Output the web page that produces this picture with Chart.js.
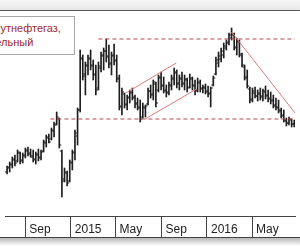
<!DOCTYPE html>
<html>
<head>
<meta charset="utf-8">
<script src="https://cdn.jsdelivr.net/npm/chart.js@4.4.1/dist/chart.umd.min.js"></script>
<style>
  html, body { margin: 0; padding: 0; background: #fff; }
  #wrap { position: relative; width: 300px; height: 250px; overflow: hidden; }
  #chart { display: block; }
  #label {
    position: absolute; left: -30px; top: 16px; width: 105px; height: 39px;
    box-sizing: border-box; border: 1px solid #a8a8a8; background: #fff;
    padding: 4px 0 0 6px; font: 11px 'Liberation Sans', Arial, sans-serif;
    line-height: 14px; color: #a02a2a; white-space: nowrap;
  }
</style>
</head>
<body>
<div id="wrap">
  <canvas id="chart" width="300" height="250"></canvas>
  <div id="label">Сургутнефтегаз,<br>недельный</div>
</div>
<script>
// weekly bars, week 0 starts on firstWeek
var firstWeek = '2014-07-14';

var highs = [30.0,30.8,31.8,32.2,33.2,32.8,32.6,33.6,33.8,33.4, 33.2,32.8,33.4,33.2,35.2,36.2,36.4,37.6,38.8,40.8,
  39.6,33.2,29.6,29.0,31.2,33.2,37.2,41.6,53.2,52.2, 50.8,52.2,53.2,51.2,50.2,50.8,52.8,53.6,55.4,54.2,
  52.8,54.4,52.2,48.2,45.6,44.6,44.2,45.2,45.6,44.2, 43.6,43.2,42.6,42.2,45.6,46.2,47.2,46.8,48.2,48.8,
  47.8,46.2,46.8,48.2,49.6,49.2,48.2,48.8,48.2,47.6, 48.4,47.8,47.2,47.6,47.2,46.2,46.4,46.0,45.8,48.0,
  51.8,52.8,53.6,54.6,55.2,56.6,57.6,56.6,55.6,55.2, 52.6,50.2,49.2,45.8,45.6,45.8,45.2,45.6,45.4,46.0,
  45.2,44.8,44.2,43.6,43.2,41.6,41.2,39.6,39.8,39.4, 39.2];
var lows = [28.4,28.8,29.6,30.0,30.8,30.4,30.6,31.6,32.0,31.8, 30.8,30.4,31.0,31.2,32.8,33.8,34.6,35.2,35.8,38.2,
  33.6,23.8,26.8,26.0,26.8,29.2,31.2,34.2,40.8,47.2, 44.2,48.2,49.2,47.2,44.2,45.2,48.8,49.2,50.8,49.6,
  48.2,50.2,46.8,41.2,40.2,41.6,41.2,42.6,43.2,41.6, 41.2,38.8,39.6,39.8,42.2,43.6,43.2,41.8,44.8,45.2,
  44.6,43.8,44.2,45.2,46.2,45.6,45.2,45.8,45.2,44.8, 45.6,45.2,44.2,44.8,44.8,44.6,44.4,43.8,41.8,46.0,
  48.2,49.8,50.8,51.6,53.2,54.2,55.2,53.2,52.2,51.8, 49.8,47.2,45.6,42.6,42.8,43.6,43.0,43.2,43.0,43.4,
  42.8,42.4,41.6,41.2,40.6,39.6,38.8,38.0,38.2,37.8, 37.8];
var opens = [28.8,29.6,30.2,31.2,31.0,32.6,31.2,32.0,33.0,32.6, 32.0,31.2,32.2,31.6,33.0,34.6,35.6,35.4,37.0,38.4,
  39.4,33.0,27.4,28.6,27.0,30.6,32.6,36.0,41.2,51.4, 48.4,50.0,51.4,50.2,48.4,45.6,49.6,52.0,53.0,51.8,
  50.6,52.2,51.0,47.4,42.0,44.4,42.4,43.6,44.6,43.8, 42.6,41.8,39.8,41.6,42.4,45.0,44.4,46.4,45.2,47.6,
  46.2,45.2,44.8,46.0,47.4,48.6,46.6,47.4,46.6,47.2, 45.8,47.4,46.2,45.2,46.6,45.4,45.6,45.0,44.4,46.2,
  48.4,50.6,51.4,52.2,53.6,54.6,55.6,56.2,53.6,54.8, 52.2,49.8,47.8,45.4,43.4,44.6,44.0,44.4,44.0,44.8,
  44.2,43.6,43.2,42.2,41.6,41.0,40.2,39.0,38.6,39.2, 38.4];
var closes = [29.8,30.4,31.4,30.6,32.8,31.0,32.2,33.2,32.4,31.8, 31.4,32.4,31.8,32.8,34.8,35.8,34.8,37.2,38.2,39.8,
  34.2,27.0,28.8,26.6,30.8,32.8,36.6,41.2,51.6,48.0, 50.2,51.6,50.0,48.2,45.2,50.0,52.2,53.0,52.0,50.4,
  52.0,51.2,47.6,41.8,44.8,42.2,43.8,44.8,43.6,42.4, 41.6,39.4,41.8,42.0,45.0,44.2,46.8,42.6,47.8,46.0,
  45.0,44.6,46.2,47.6,48.8,46.4,47.6,46.4,47.4,45.6, 47.6,46.0,45.0,46.8,45.6,45.8,44.8,44.6,45.6,47.6,
  51.2,52.0,53.0,54.0,54.8,56.2,56.4,53.8,55.0,52.4, 50.2,47.6,46.0,43.2,45.0,44.0,44.6,43.8,45.0,44.0,
  43.4,43.0,42.0,41.8,41.2,40.0,39.2,38.6,39.4,38.4, 38.8];

var tickDates = ['2014-09-01', '2015-01-01', '2015-05-01', '2015-09-01', '2016-01-01', '2016-05-01'];
var tickLabels = ['Sep', '2015', 'May', 'Sep', '2016', 'May'];

// drawn levels and trend lines: [week, price]
var resistance = [[35, 55.4], [110.3, 55.4]];
var support = [[16.6, 39.4], [110.3, 39.4]];
var channelTop = [[45.5, 44.6], [64.8, 50.6]];
var channelBottom = [[52.9, 39.4], [72.6, 45.4]];
var downTrend = [[86.0, 56.8], [110.3, 40.6]];

function weekOf(d) {
    return (Date.parse(d) - Date.parse(firstWeek)) / (7 * 864e5);
}
var tickWeeks = tickDates.map(weekOf);

function pts(arr) {
    return arr.map(function(p) { return { x: p[0], y: p[1] }; });
}

function lineSet(arr, color, dash) {
    return {
        type: 'line', data: pts(arr), borderColor: color, borderWidth: 1,
        borderDash: dash || [], pointRadius: 0, fill: false, order: 0
    };
}

var frame = {
    id: 'frame',
    beforeDraw: function(chart) {
        var c = chart.ctx, a = chart.chartArea, w = chart.width;
        c.save();
        c.fillStyle = '#fff';
        c.fillRect(0, 0, w, chart.height);
        var g = c.createLinearGradient(0, 0, 0, a.top);
        g.addColorStop(0, '#f6f6f6');
        g.addColorStop(1, '#e6e6e6');
        c.fillStyle = g;
        c.fillRect(0, 0, w, a.top - 1);
        c.fillStyle = '#5a5a5a';
        c.fillRect(0, a.top - 1, w, 1);
        c.restore();
    },
    afterDraw: function(chart) {
        var c = chart.ctx, b = chart.scales.x.bottom, w = chart.width;
        c.save();
        c.fillStyle = '#444';
        c.fillRect(0, b, w, 1);
        var g = c.createLinearGradient(0, b + 1, 0, b + 9);
        g.addColorStop(0, '#b8b8b8');
        g.addColorStop(1, '#ffffff');
        c.fillStyle = g;
        c.fillRect(0, b + 1, w, 8);
        c.restore();
    }
};

var ctx = document.getElementById('chart').getContext('2d');
var chart = new Chart(ctx, {
    type: 'bar',
    data: {
        datasets: [
            lineSet(resistance, '#b84848', [4, 3]),
            lineSet(support, '#b84848', [4, 3]),
            lineSet(channelTop, '#de7a7a'),
            lineSet(channelBottom, '#de7a7a'),
            lineSet(downTrend, '#de7a7a'),
            {
                type: 'bar',
                data: highs.map(function(h, i) { return { x: i, y: [lows[i], h] }; }),
                backgroundColor: '#1e1e1e', borderWidth: 0, barThickness: 1, order: 1
            },
            {
                type: 'scatter',
                data: opens.map(function(v, i) { return { x: i - 0.4, y: v }; }),
                pointStyle: 'line', radius: 1, borderColor: '#1e1e1e', borderWidth: 1, order: 1
            },
            {
                type: 'scatter',
                data: closes.map(function(v, i) { return { x: i + 0.4, y: v }; }),
                pointStyle: 'line', radius: 1, borderColor: '#1e1e1e', borderWidth: 1, order: 1
            }
        ]
    },
    options: {
        responsive: false,
        animation: false,
        devicePixelRatio: 1,
        layout: { padding: { top: 11, bottom: 13, left: 0, right: 0 } },
        plugins: { legend: { display: false }, tooltip: { enabled: false } },
        scales: {
            x: {
                type: 'linear', min: -0.8, max: 110.3, offset: false,
                afterBuildTicks: function(scale) {
                    scale.ticks = tickWeeks.map(function(v) { return { value: v }; });
                },
                afterFit: function(scale) { scale.height = 21; },
                grid: { offset: false, drawOnChartArea: false, drawTicks: true, tickLength: 21, color: '#444' },
                border: { display: true, color: '#444' },
                ticks: {
                    autoSkip: false, maxRotation: 0, align: 'start', labelOffset: 4, padding: -15,
                    color: '#222',
                    font: { family: "'Liberation Sans Narrow', 'Liberation Sans', Arial, sans-serif", size: 12 },
                    callback: function(v, i) { return tickLabels[i]; }
                }
            },
            y: { type: 'linear', display: false, min: 20, max: 61 }
        }
    },
    plugins: [frame]
});
</script>
</body>
</html>
